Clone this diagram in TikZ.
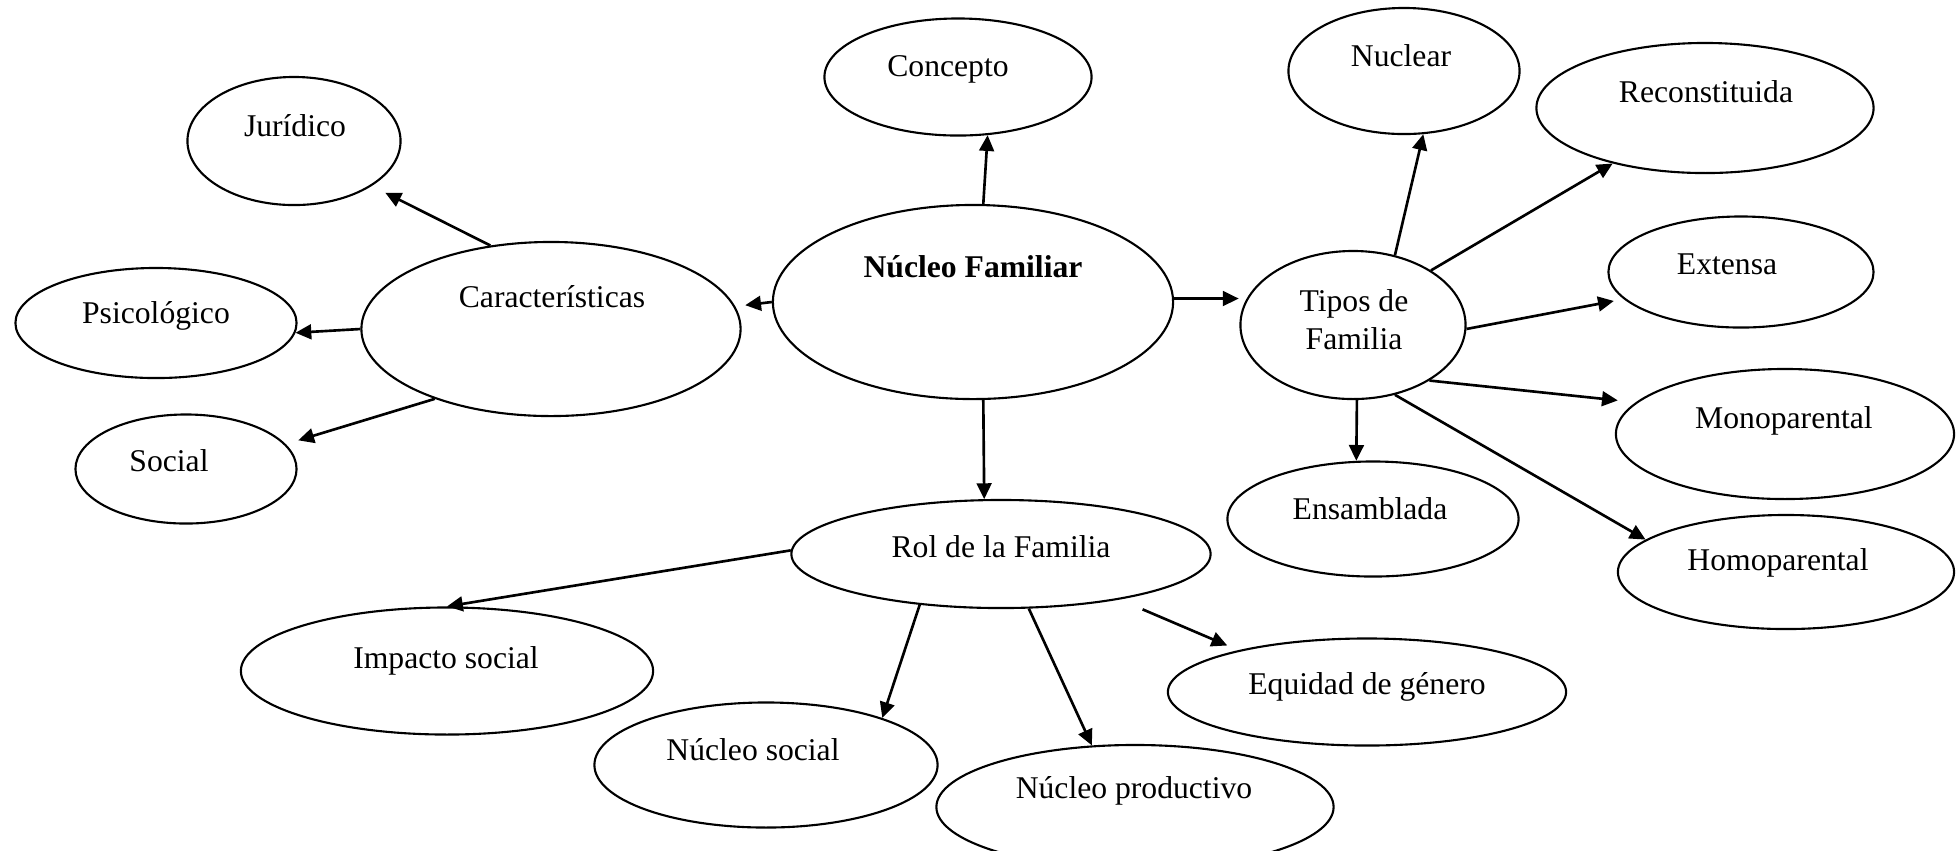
\documentclass[tikz,border=0pt]{standalone}
\usepackage{fontspec}
\setmainfont{Liberation Serif}
\usetikzlibrary{shapes,arrows.meta}

\begin{document}
\begin{tikzpicture}[x=0.01cm,y=-0.01cm,
    oval/.style={ellipse,draw,line width=0.6pt,inner sep=0pt},
    txt/.style={anchor=base,inner sep=0pt,align=center,
        font=\fontsize{9}{10.8}\selectfont},
    arr/.style={-{Triangle[length=4.5pt,width=4.2pt]},line width=0.75pt}]

    \useasboundingbox (0,0) rectangle (1959,850);

    % the ovals
    \node[oval,minimum width=4cm,minimum height=1.94cm] (nf) at (973,302) {};
    \node[oval,minimum width=2.67cm,minimum height=1.17cm] (conc) at (958,77) {};
    \node[oval,minimum width=3.79cm,minimum height=1.74cm] (car) at (551,329) {};
    \node[oval,minimum width=2.13cm,minimum height=1.28cm] (jur) at (294,141) {};
    \node[oval,minimum width=2.81cm,minimum height=1.1cm] (psi) at (156,323) {};
    \node[oval,minimum width=2.21cm,minimum height=1.09cm] (soc) at (186,469) {};
    \node[oval,minimum width=2.25cm,minimum height=1.48cm] (tip) at (1353,325) {};
    \node[oval,minimum width=2.31cm,minimum height=1.26cm] (nuc) at (1404,71) {};
    \node[oval,minimum width=3.37cm,minimum height=1.3cm] (rec) at (1705,108) {};
    \node[oval,minimum width=2.65cm,minimum height=1.11cm] (ext) at (1741,272) {};
    \node[oval,minimum width=3.38cm,minimum height=1.3cm] (mono) at (1785,434) {};
    \node[oval,minimum width=2.91cm,minimum height=1.15cm] (ens) at (1373,519) {};
    \node[oval,minimum width=3.36cm,minimum height=1.14cm] (homo) at (1786,572) {};
    \node[oval,minimum width=4.19cm,minimum height=1.08cm] (rol) at (1001,554) {};
    \node[oval,minimum width=4.12cm,minimum height=1.27cm] (imp) at (447,671) {};
    \node[oval,minimum width=3.43cm,minimum height=1.25cm] (nso) at (766,765) {};
    \node[oval,minimum width=3.97cm,minimum height=1.24cm] (npr) at (1135,807) {};
    \node[oval,minimum width=3.98cm,minimum height=1.07cm] (equ) at (1367,692) {};

    % the texts
    \node[txt,font=\fontsize{9}{10.8}\selectfont\bfseries] (nf-t) at (973,277) {Núcleo Familiar};
    \node[txt] (conc-t) at (948,76) {Concepto};
    \node[txt] (car-t) at (552,307) {Características};
    \node[txt] (jur-t) at (295,136) {Jurídico};
    \node[txt] (psi-t) at (156,323) {Psicológico};
    \node[txt] (soc-t) at (169,471) {Social};
    \node[txt] (tip-t) at (1354,349) {Tipos de\\Familia};
    \node[txt] (nuc-t) at (1401,66) {Nuclear};
    \node[txt] (rec-t) at (1706,102) {Reconstituida};
    \node[txt] (ext-t) at (1727,274) {Extensa};
    \node[txt] (mono-t) at (1784,428) {Monoparental};
    \node[txt] (ens-t) at (1370,519) {Ensamblada};
    \node[txt] (homo-t) at (1778,570) {Homoparental};
    \node[txt] (rol-t) at (1001,557) {Rol de la Familia};
    \node[txt] (imp-t) at (446,668) {Impacto social};
    \node[txt] (nso-t) at (753,760) {Núcleo social};
    \node[txt] (npr-t) at (1134,798) {Núcleo productivo};
    \node[txt] (equ-t) at (1367,694) {Equidad de género};

    % the arrows
    \draw[arr] (nf.84) -- (conc.-63);
    \draw[arr,shorten >=0.1cm] (nf.180) -- (car.7);
    \draw[arr,shorten >=0.08cm] (nf.1) -- (tip.166);
    \draw[arr] (nf.-84) -- (rol.107);
    \draw[arr,shorten >=0.15cm] (car.126) -- (jur.-30);
    \draw[arr] (car.180) -- (psi.-4);
    \draw[arr,shorten >=0.13cm] (car.-149) -- (soc.14);
    \draw[arr] (tip.59) -- (nuc.-73);
    \draw[arr] (tip.35) -- (rec.-149);
    \draw[arr,shorten >=0.1cm] (tip.-2) -- (ext.-167);
    \draw[arr,shorten >=0.18cm] (tip.-36) -- (mono.168);
    \draw[arr] (tip.-87) -- (ens.106);
    \draw[arr] (tip.-59) -- (homo.167);
    \draw[arr] (rol.179) -- (imp.90);
    \draw[arr] (rol.-148) -- (nso.22);
    \draw[arr] (rol.-63) -- (npr.125);
    \draw[arr,shorten <=0.25cm,shorten >=0.12cm] (rol.-21) -- (equ.162);

\end{tikzpicture}
\end{document}
